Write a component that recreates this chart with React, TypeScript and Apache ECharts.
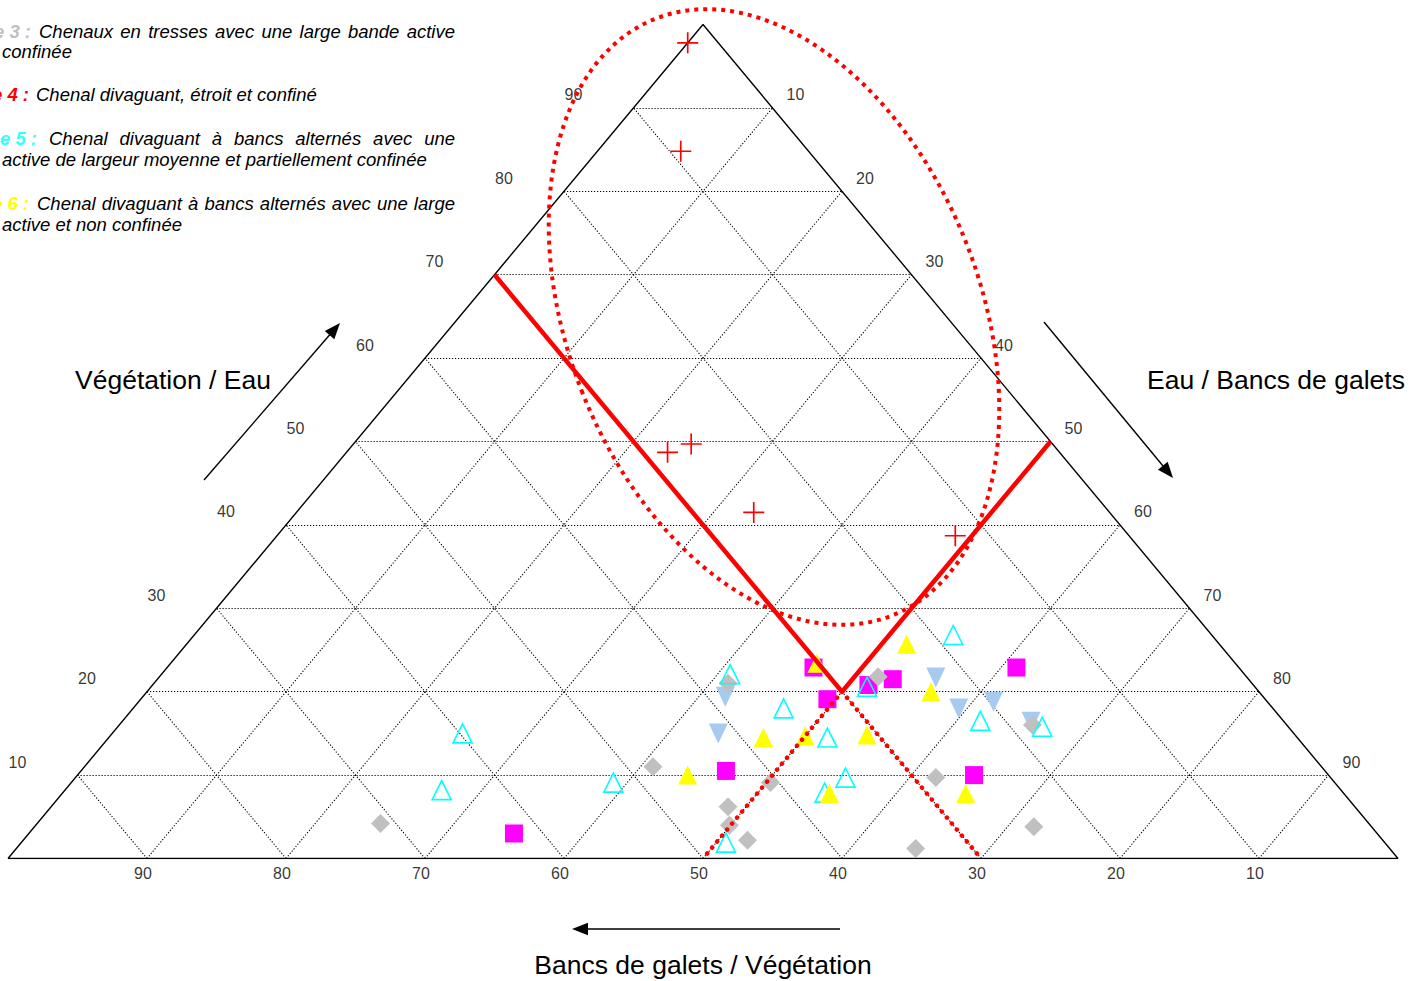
import React, { useEffect, useRef } from 'react';
import * as echarts from 'echarts';

// Ternary data, each point = [Bancs de galets %, Eau %]; Végétation % = 100 - both
const type1Squares: [number, number][] = [
  [34.9, 3.0], [46.4, 10.5], [46.5, 22.9], [49.4, 19.1], [51.5, 20.8], [52.9, 21.5], [61.1, 22.9], [64.5, 10.0],
];
const type2InvTriangles: [number, number][] = [
  [41.9, 19.4], [43.6, 15.0], [55.9, 21.7], [59.4, 18.0], [61.5, 18.8], [65.4, 16.4],
];
const type3Diamonds: [number, number][] = [
  [24.7, 4.2], [40.9, 11.0], [41.3, 21.0], [50.3, 9.1], [48.7, 6.2], [49.9, 4.0], [52.1, 2.2],
  [51.7, 21.8], [61.9, 9.7], [64.7, 1.2], [65.7, 16.0], [71.9, 3.8],
];
const type4Crosses: [number, number][] = [
  [0.0, 97.8], [6.0, 84.8], [23.1, 48.7], [24.3, 49.7], [32.9, 41.5], [48.8, 38.7],
];
const type5OpenTriangles: [number, number][] = [
  [25.2, 15.0], [27.1, 8.2], [39.0, 9.1], [40.9, 22.1], [50.7, 1.9], [46.8, 18.0], [51.7, 14.5],
  [51.5, 20.6], [54.6, 26.8], [55.4, 9.7], [54.8, 7.9], [61.7, 16.5], [66.5, 15.8],
];
const type6Triangles: [number, number][] = [
  [43.9, 10.0], [47.1, 14.5], [50.0, 14.7], [46.5, 23.4], [54.4, 14.8], [51.8, 25.7], [56.4, 20.0],
  [55.2, 7.8], [65.0, 7.8],
];
// threshold lines (V), [galets, eau]
const thresholdSolid: [number, number][][] = [
  [[0, 70], [50, 20]],
  [[50, 50], [50, 20]],
];
const thresholdDotted: [number, number][][] = [
  [[50, 20], [70, 0]],
  [[50, 20], [50, 0]],
];
const tickValues = [10, 20, 30, 40, 50, 60, 70, 80, 90];

const legendLines = [
  { prefix: 'Type 3 :', prefixColor: '#C0C0C0', prefixRight: 31, body: 'Chenaux en tresses avec une large bande active', x: 39, y: 31, justify: true },
  { body: 'confinée', x: 2, y: 51 },
  { prefix: 'Type 4 :', prefixColor: '#FF0000', prefixRight: 29, body: 'Chenal divaguant, étroit et confiné', x: 36, y: 94.5 },
  { prefix: 'Type 5 :', prefixColor: '#33FFFF', prefixRight: 37, body: 'Chenal divaguant à bancs alternés avec une', x: 49, y: 138, justify: true },
  { body: 'active de largeur moyenne et partiellement confinée', x: 2, y: 159 },
  { prefix: 'Type 6 :', prefixColor: '#FFFF00', prefixRight: 29, body: 'Chenal divaguant à bancs alternés avec une large', x: 37, y: 203, justify: true },
  { body: 'active et non confinée', x: 2, y: 224 },
];

const FONT = '"Liberation Sans", Arial, Helvetica, sans-serif';

// ternary (galets, eau) -> cartesian value space
const toXY = (p: [number, number]): [number, number] => [p[0] + p[1] / 2, p[1]];

export default function App() {
  const ref = useRef<HTMLDivElement>(null);
  useEffect(() => {
    const chart = echarts.init(ref.current!, null, { renderer: 'svg' });

    // grid segments
    const gridSegs: [number, number][][] = [];
    tickValues.forEach((k) => {
      gridSegs.push([toXY([0, k]), toXY([100 - k, k])]); // Eau = k
      gridSegs.push([toXY([k, 0]), toXY([k, 100 - k])]); // galets = k
      gridSegs.push([toXY([100 - k, 0]), toXY([0, 100 - k])]); // végétation = k
    });
    const outline = [toXY([0, 0]), toXY([100, 0]), toXY([0, 100]), toXY([0, 0])];

    const leftLabels = tickValues.map((k) => ({ name: String(k), value: toXY([0, k]) }));
    const rightLabels = tickValues.map((k) => ({ name: String(k), value: toXY([k, 100 - k]) }));
    const bottomLabels = tickValues.map((k) => ({ name: String(k), value: toXY([100 - k, 0]) }));

    const labelSeries = (data: any[], offset: number[]) => ({
      type: 'scatter',
      data,
      symbolSize: 1,
      itemStyle: { color: 'rgba(0,0,0,0)' },
      silent: true,
      z: 5,
      label: {
        show: true,
        position: 'inside',
        offset,
        formatter: '{b}',
        color: '#000',
        fontSize: 16,
        fontFamily: FONT,
      },
    });

    // text measurement for justified legend lines
    const canvas = document.createElement('canvas');
    const ctx = canvas.getContext('2d')!;
    const fontSize = 18.5;
    ctx.font = `italic ${fontSize}px "Liberation Sans"`;
    const graphics: any[] = [];
    legendLines.forEach((ln: any) => {
      if (ln.prefix) {
        graphics.push({
          type: 'text',
          x: ln.prefixRight,
          y: ln.y,
          style: {
            text: ln.prefix,
            fill: ln.prefixColor,
            fontSize,
            fontFamily: FONT,
            fontStyle: 'italic',
            fontWeight: 'bold',
            align: 'right',
            textAlign: 'right',
            verticalAlign: 'middle',
            textVerticalAlign: 'middle',
          },
        });
      }
      const words = ln.body.split(' ');
      const widths = words.map((w: string) => ctx.measureText(w).width);
      const sum = widths.reduce((a: number, b: number) => a + b, 0);
      const gap = ln.justify && words.length > 1 ? (455 - ln.x - sum) / (words.length - 1) : ctx.measureText(' ').width;
      let cx = ln.x;
      words.forEach((w: string, i: number) => {
        graphics.push({
          type: 'text',
          x: cx,
          y: ln.y,
          style: {
            text: w,
            fill: '#000',
            fontSize,
            fontFamily: FONT,
            fontStyle: 'italic',
            align: 'left',
            textAlign: 'left',
            verticalAlign: 'middle',
            textVerticalAlign: 'middle',
          },
        });
        cx += widths[i] + gap;
      });
    });

    const titles = [
      { text: 'Végétation / Eau', x: 173, y: 380 },
      { text: 'Eau / Bancs de galets', x: 1276, y: 380 },
      { text: 'Bancs de galets / Végétation', x: 703, y: 965 },
    ];
    titles.forEach((t) => {
      graphics.push({
        type: 'text',
        x: t.x,
        y: t.y,
        style: {
          text: t.text,
          fill: '#000',
          fontSize: 26.5,
          fontFamily: FONT,
          align: 'center',
          textAlign: 'center',
          verticalAlign: 'middle',
          textVerticalAlign: 'middle',
        },
      });
    });

    const arrows = [
      { from: [204, 480], to: [340, 323] },
      { from: [1044, 322], to: [1173, 478] },
      { from: [840, 929], to: [572, 929] },
    ];
    arrows.forEach((a) => {
      const dx = a.to[0] - a.from[0];
      const dy = a.to[1] - a.from[1];
      const len = Math.hypot(dx, dy);
      const ux = dx / len;
      const uy = dy / len;
      const L = 16;
      const W = 6.3;
      const bx = a.to[0] - ux * L;
      const by = a.to[1] - uy * L;
      graphics.push({
        type: 'line',
        shape: { x1: a.from[0], y1: a.from[1], x2: bx + ux * 2, y2: by + uy * 2 },
        style: { stroke: '#000', lineWidth: 1.4 },
      });
      graphics.push({
        type: 'polygon',
        shape: {
          points: [
            [a.to[0], a.to[1]],
            [bx - uy * W, by + ux * W],
            [bx + uy * W, by - ux * W],
          ],
        },
        style: { fill: '#000' },
      });
    });

    graphics.push({
      type: 'ellipse',
      x: 774,
      y: 317,
      rotation: 0.379,
      z: 100,
      shape: { cx: 0, cy: 0, rx: 206, ry: 321 },
      style: { fill: 'none', stroke: '#FF0000', lineWidth: 4, lineDash: [4, 5] },
    });

    const option: any = {
      animation: false,
      backgroundColor: '#fff',
      grid: { left: 8, top: 24.5, width: 1390, height: 834 },
      xAxis: { type: 'value', min: 0, max: 100, show: false },
      yAxis: { type: 'value', min: 0, max: 100, show: false },
      graphic: { elements: graphics },
      series: [
        {
          type: 'lines',
          coordinateSystem: 'cartesian2d',
          silent: true,
          z: 1,
          data: gridSegs.map((c) => ({ coords: c })),
          lineStyle: { color: '#000', width: 1.1, type: [1.2, 1.8], opacity: 1 },
        },
        {
          type: 'line',
          data: outline,
          symbol: 'none',
          silent: true,
          z: 2,
          lineStyle: { color: '#000', width: 1.4 },
        },
        labelSeries(leftLabels, [-60, -13]),
        labelSeries(rightLabels, [23, -13]),
        labelSeries(bottomLabels, [-4, 15]),
        {
          name: 'Type 2',
          type: 'scatter',
          z: 3,
          data: type2InvTriangles.map(toXY),
          symbol: 'triangle',
          symbolRotate: 180,
          symbolSize: [19, 20],
          itemStyle: { color: '#A6CAF0', opacity: 1 },
        },
        {
          name: 'Type 1',
          type: 'scatter',
          z: 3,
          data: type1Squares.map(toXY),
          symbol: 'rect',
          symbolSize: 18,
          itemStyle: { color: '#FF00FF', opacity: 1 },
        },
        {
          name: 'Type 3',
          type: 'scatter',
          z: 3,
          data: type3Diamonds.map(toXY),
          symbol: 'diamond',
          symbolSize: 19,
          itemStyle: { color: '#C0C0C0', opacity: 1 },
        },
        {
          name: 'Type 5',
          type: 'scatter',
          z: 3,
          data: type5OpenTriangles.map(toXY),
          symbol: 'triangle',
          symbolSize: 19,
          itemStyle: { color: 'rgba(255,255,255,0)', borderColor: '#00FFFF', borderWidth: 1.6, opacity: 1 },
        },
        {
          name: 'Type 6',
          type: 'scatter',
          z: 3,
          data: type6Triangles.map(toXY),
          symbol: 'triangle',
          symbolSize: 19,
          itemStyle: { color: '#FFFF00', opacity: 1 },
        },
        {
          name: 'Type 4',
          type: 'scatter',
          z: 3,
          data: type4Crosses.map(toXY),
          symbol: 'path://M0,9.2H20V10.8H0Z M9.2,0H10.8V20H9.2Z',
          symbolSize: 21,
          itemStyle: { color: '#FF0000', opacity: 1 },
        },
        {
          type: 'lines',
          coordinateSystem: 'cartesian2d',
          silent: true,
          z: 4,
          data: thresholdSolid.map((c) => ({ coords: c.map(toXY) })),
          lineStyle: { color: '#FF0000', width: 4.5, opacity: 1 },
        },
        {
          type: 'lines',
          coordinateSystem: 'cartesian2d',
          silent: true,
          z: 4,
          data: thresholdDotted.map((c) => ({ coords: c.map(toXY) })),
          lineStyle: { color: '#FF0000', width: 4.5, type: [0.1, 7.7], cap: 'round', opacity: 1 },
        },
      ],
    };
    chart.setOption(option);
    return () => chart.dispose();
  }, []);
  return <div ref={ref} style={{ position: 'absolute', left: 0, top: 0, width: 1425, height: 981 }} />;
}
